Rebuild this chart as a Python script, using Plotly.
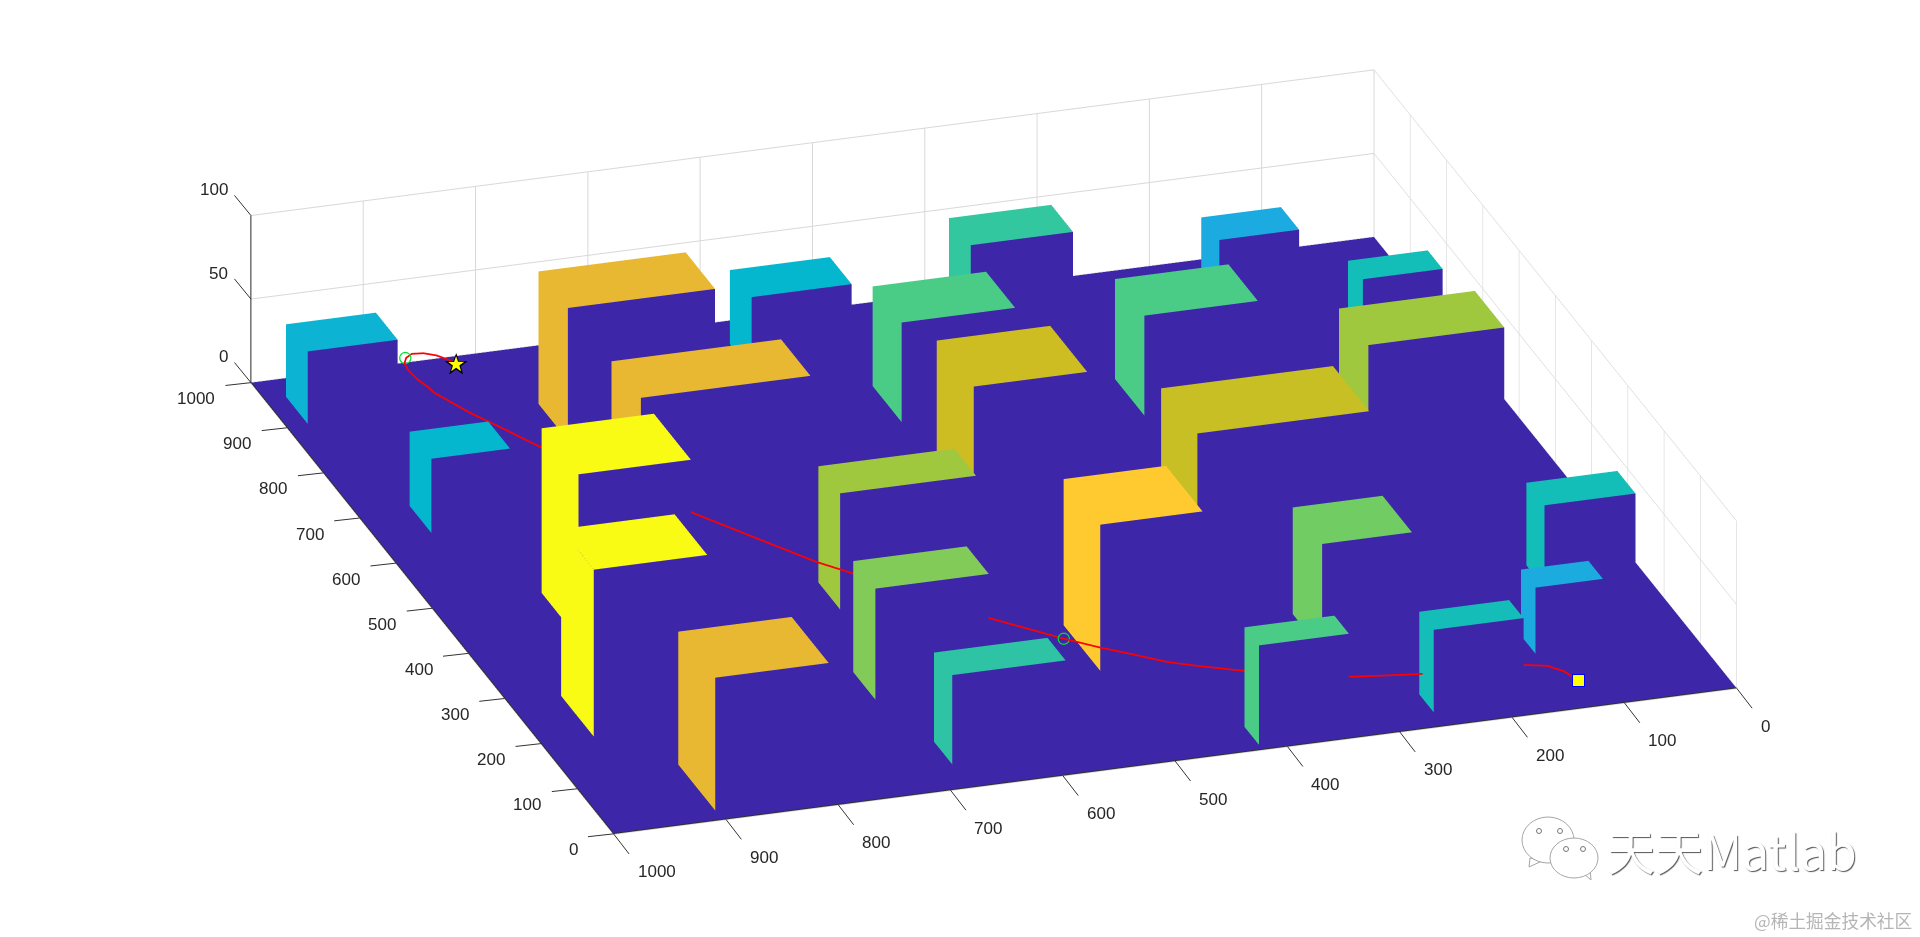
import numpy as np
import plotly.graph_objects as go

# ---- buildings: left-axis start, bottom-axis start, extents, height, colour
bld_x  = [902,651,801,603,400,200,20,391,201,51,200,400,549,751,701,904,900,752,551,183,10,30,121,251,892]
bld_y  = [901,882,651,630,802,852,802,551,601,581,411,198,401,400,200,299,99,19,29,230,342,180,80,9,500]
bld_dx = [60,60,81,81,102,90,102,60,61,50,101,100,102,80,81,60,50,41,81,81,40,40,40,50,60]
bld_dy = [80,70,131,151,100,101,101,121,101,101,91,153,101,101,101,91,71,71,121,80,80,80,60,81,89]
bld_h  = [43.5,44.5,79.4,79,98.6,100,79.6,69.6,66.5,53.5,87.6,75,76,59.7,59.9,55,40,49.5,69.6,63.9,59.7,49.5,39.7,49.5,44.5]
bld_color = ["#0CB3D3","#05B7CE","#E8B832","#E8B832","#F9FB14","#F9FB14","#E8B832","#A0C83F","#83CB59","#2DC3A4",
             "#FECA2F","#C8BF25","#CDBD23","#4ACC87","#4ACC87","#33C7A0","#1BABE0","#13BDB8","#A0C83F","#71CD63",
             "#4ACC87","#14BDB8","#1BABDF","#13BDB8","#05B7CE"]
GROUND = "#3E26A8"

# ---- flight path
path_x = [934.7,944.1,955.7,963.8,965.6,959.1,948.6,933,914.1,890.6,866,847.4,829,804.3,774.5,699.6,522.3,451.6,391.9,359.2,233,174.2,146.6,124,100.4,83.1,61.9,72.6,60.7,67.7,77.6,72.7,53.5]
path_y = [838.6,842.2,848.7,858,867.8,875,879.9,881.3,880,875.7,880.7,874.8,869,865.1,859.9,837.9,760.2,723.7,692.4,670.4,588.5,543.2,519.4,497,474.9,450.8,417.6,319,263.6,165.7,143.8,130.7,123.5]
path_z = [15,15,15,15,15,15,15,15,15,15,20,20,20,22,25,28,30,30,30,30,30,30,30,30,30,30,30,15,15,10,5,2,1]
way_x = [959.4,174.2]
way_y = [876,543.2]
way_z = [15,30]

ticks_xy = list(range(0,1001,100))
ticks_z = [0,50,100]

# ---- mesh assembly
vx, vy, vz, fi, fj, fk, fc = [], [], [], [], [], [], []
def quad(p, c):
    n = len(vx)
    for q in p:
        vx.append(q[0]); vy.append(q[1]); vz.append(q[2])
    fi.extend([n, n]); fj.extend([n+1, n+2]); fk.extend([n+2, n+3]); fc.extend([c, c])

quad([(0,0,0),(1000,0,0),(1000,1000,0),(0,1000,0)], GROUND)
for x0,y0,dx,dy,h,c in zip(bld_x,bld_y,bld_dx,bld_dy,bld_h,bld_color):
    x1,y1 = x0+dx, y0+dy
    quad([(x0,y0,h),(x1,y0,h),(x1,y1,h),(x0,y1,h)], c)       # roof
    quad([(x0,y1,0),(x1,y1,0),(x1,y1,h),(x0,y1,h)], c)       # lit wall
    quad([(x0,y0,0),(x0,y1,0),(x0,y1,h),(x0,y0,h)], GROUND)  # near wall

fig = go.Figure()
fig.add_trace(go.Mesh3d(x=vx,y=vy,z=vz,i=fi,j=fj,k=fk,facecolor=fc,flatshading=True,
    lighting=dict(ambient=1,diffuse=0,specular=0,roughness=1,fresnel=0),hoverinfo="skip",showscale=False))
fig.add_trace(go.Scatter3d(x=[1000,0,0],y=[1000,1000,0],z=[0.2,0.2,0.2],mode="lines",line=dict(color="#303030",width=2),hoverinfo="skip"))
fig.add_trace(go.Scatter3d(x=path_x,y=path_y,z=path_z,mode="lines",line=dict(color="#FF0000",width=3.5),hoverinfo="skip"))
fig.add_trace(go.Scatter3d(x=way_x,y=way_y,z=way_z,mode="markers",
    marker=dict(symbol="circle-open",size=7,color="#00E030"),hoverinfo="skip"))
fig.add_trace(go.Scatter3d(x=[path_x[0]],y=[path_y[0]],z=[path_z[0]],mode="text",text=["★"],textposition="middle center",
    textfont=dict(size=30,color="#000000",family="DejaVu Sans"),hoverinfo="skip"))
fig.add_trace(go.Scatter3d(x=[path_x[0]],y=[path_y[0]],z=[path_z[0]],mode="text",text=["★"],textposition="middle center",
    textfont=dict(size=21,color="#FFFF00",family="DejaVu Sans"),hoverinfo="skip"))

axis = dict(showbackground=False,showgrid=True,gridcolor="#D8D8D8",gridwidth=2,zeroline=False,
    showline=False,ticks="",showticklabels=False,showspikes=False,title=dict(text=""))

# ---- tick marks and labels, placed at the axis values
tick_font = dict(family="Liberation Sans",size=17,color="#262626")
scene_ann = []
def tick(x,y,z,ax,ay):
    scene_ann.append(dict(x=x,y=y,z=z,text=" ",font=dict(size=1),showarrow=True,arrowhead=0,arrowwidth=1,
                          arrowcolor="#333333",ax=ax,ay=ay,standoff=0))
def label(x,y,z,v,anchor,xs,ys):
    scene_ann.append(dict(x=x,y=y,z=z,text=str(v),font=tick_font,showarrow=False,xanchor=anchor,yanchor="middle",xshift=xs,yshift=ys))
for v in ticks_xy:
    tick(v,1000,0,-27,3);  label(v,1000,0,v,"right",-34,-16)   # left axis
    tick(0,v,0,17,22);     label(0,v,0,v,"left",22,-38)        # bottom axis
for v in ticks_z:
    tick(1000,1000,v,-18,-22); label(1000,1000,v,v,"right",-21,26)
# goal marker
scene_ann.append(dict(x=path_x[-1],y=path_y[-1],z=path_z[-1],text=" ",font=dict(size=1),showarrow=False,width=11,height=11,
                      bgcolor="#FFFF00",bordercolor="#0000FF",borderwidth=1,borderpad=0))

# view: size of the box in the frame, direction and offset
s = 2.519
d = 6.0
n = np.array([-0.8715,0.2814,0.4018])
c = np.array([-0.0030,0.0588,-0.0477])
e = c + d*n

def px(x): return (x-8)/1920
def py(y): return 1-(y-8)/937
def ell(cx,cy,rx,ry,fill="#FFFFFF",line="#A5A5A5",w=1):
    return dict(type="circle",xref="paper",yref="paper",x0=px(cx-rx),x1=px(cx+rx),y0=py(cy+ry),y1=py(cy-ry),
                fillcolor=fill,line=dict(color=line,width=w),layer="above")
def poly(pts,fill="#FFFFFF",line="#A5A5A5",w=1):
    s_ = "M "+" L ".join(f"{px(a):.5f} {py(b):.5f}" for a,b in pts)+" Z"
    return dict(type="path",xref="paper",yref="paper",path=s_,fillcolor=fill,line=dict(color=line,width=w),layer="above")

shapes = [
    poly([(1530,858),(1529,867),(1542,861)]),
    ell(1548,840,26,23),
    poly([(1582,872),(1591,880),(1590,868)]),
    ell(1574,858,24,20),
    ell(1539,831,2.5,2.5,line="#777777"), ell(1560,831,2.5,2.5,line="#777777"),
    ell(1566,849,2.5,2.5,line="#777777"), ell(1583,849,2.5,2.5,line="#777777"),
]
wm_shadow = "1px 1px 1px #555555"
annotations = [
    dict(text="天天Matlab",xref="paper",yref="paper",x=px(1605),y=py(849),xanchor="left",yanchor="middle",showarrow=False,
         font=dict(family="Noto Sans CJK SC",size=48,color="#FFFFFF",shadow=wm_shadow)),
    dict(text="@稀土掘金技术社区",xref="paper",yref="paper",x=px(1914),y=py(920),xanchor="right",yanchor="middle",showarrow=False,
         font=dict(family="Noto Sans CJK SC",size=17.7,color="#B5B5B5")),
]

fig.update_layout(
    width=1920,height=937,margin=dict(l=0,r=0,t=0,b=0),paper_bgcolor="#FFFFFF",showlegend=False,
    shapes=shapes,annotations=annotations,
    scene=dict(
        domain=dict(x=[0,1],y=[0,1]),
        xaxis=dict(axis,range=[0,1000],tickvals=ticks_xy),
        yaxis=dict(axis,range=[0,1000],tickvals=ticks_xy),
        zaxis=dict(axis,range=[-0.3,100],tickvals=ticks_z,showline=True,linecolor="#262626",linewidth=2),
        aspectmode="manual",aspectratio=dict(x=s,y=s,z=0.1551*s),
        annotations=scene_ann,
        camera=dict(projection=dict(type="orthographic"),up=dict(x=0,y=0,z=1),
                    center=dict(x=c[0],y=c[1],z=c[2]),eye=dict(x=e[0],y=e[1],z=e[2])),
    ),
)
fig.write_html("out.html")
